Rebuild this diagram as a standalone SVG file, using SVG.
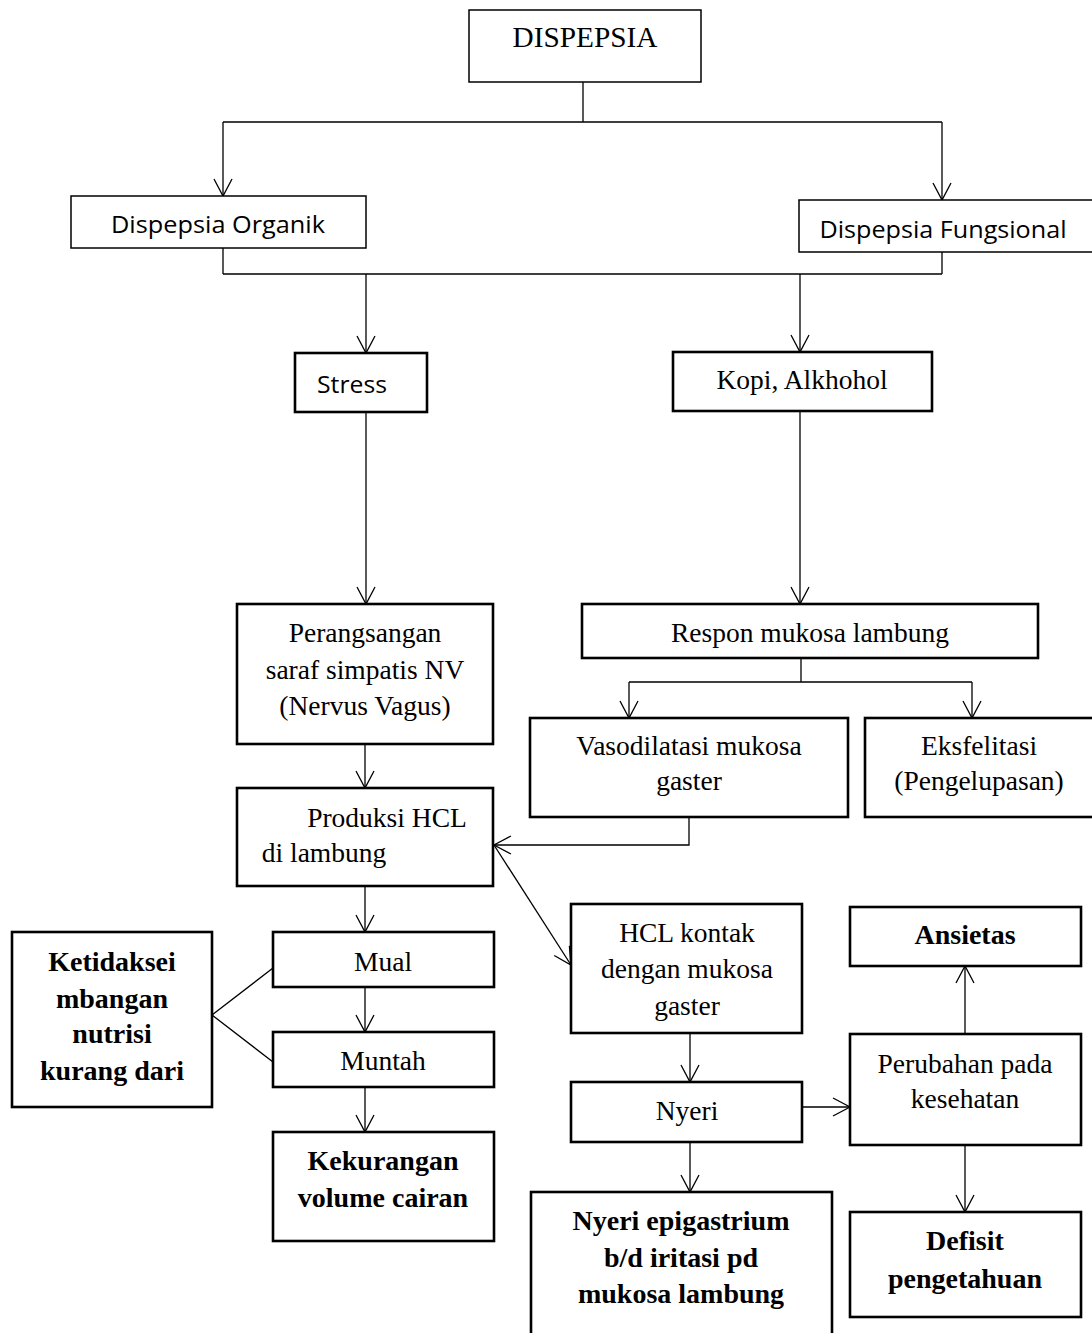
<svg xmlns="http://www.w3.org/2000/svg" width="1092" height="1333" viewBox="0 0 1092 1333">
<style>
.thin{fill:#fff;stroke:#000;stroke-width:1.5}
.box{fill:#fff;stroke:#000;stroke-width:2.6}
.c{fill:none;stroke:#000;stroke-width:1.3}
.a{fill:none;stroke:#000;stroke-width:1.3;marker-end:url(#arr)}
text{fill:#000;text-anchor:middle}
.s{font-family:"Liberation Serif","Times New Roman",serif;font-size:27.5px}
.b{font-family:"Liberation Serif","Times New Roman",serif;font-size:28px;font-weight:bold}
.sans{font-family:"Open Sans","Liberation Sans",sans-serif;font-size:24px}
</style>
<defs>
<marker id="arr" markerUnits="userSpaceOnUse" markerWidth="24" markerHeight="24" viewBox="-20 -12 24 24" refX="0" refY="0" orient="auto">
<path d="M-17,-9 L0,0 L-17,9" fill="none" stroke="#000" stroke-width="1.3"/>
</marker>
</defs>
<rect width="1092" height="1333" fill="#fff"/>
<g id="connectors">
<path class="c" d="M583,82 V122 M223,122 H942"/>
<path class="a" d="M223,122 V196"/>
<path class="a" d="M942,122 V200"/>
<path class="c" d="M223,248 V274 M942,252 V274 M223,274 H942"/>
<path class="a" d="M366,274 V353"/>
<path class="a" d="M800,274 V352"/>
<path class="a" d="M366,412 V604"/>
<path class="a" d="M800,411 V604"/>
<path class="a" d="M365,744 V788"/>
<path class="c" d="M801,658 V682 M629,682 H972"/>
<path class="a" d="M629,682 V718"/>
<path class="a" d="M972,682 V718"/>
<path class="a" d="M689,817 V845 H494"/>
<path class="a" d="M273,830 V790"/>
<path class="a" d="M494,845 L571,965"/>
<path class="a" d="M365,886 V932"/>
<path class="a" d="M365,987 V1032"/>
<path class="a" d="M365,1087 V1132"/>
<path class="c" d="M273,968 L212,1015 L273,1062"/>
<path class="a" d="M690,1033 V1082"/>
<path class="a" d="M690,1142 V1192"/>
<path class="a" d="M802,1107 H850"/>
<path class="a" d="M965,1034 V966"/>
<path class="a" d="M965,1145 V1212"/>
</g>
<g id="dispepsia"><rect class="thin" x="469" y="10" width="232" height="72"/><text class="s" x="585" y="47" style="font-size:29px" textLength="145" lengthAdjust="spacingAndGlyphs">DISPEPSIA</text></g>
<g id="organik"><rect class="thin" x="71" y="196" width="295" height="52"/><text class="sans" x="218" y="233" textLength="214" lengthAdjust="spacingAndGlyphs">Dispepsia Organik</text></g>
<g id="fungsional"><rect class="thin" x="799" y="200" width="300" height="52"/><text class="sans" x="943" y="238" textLength="247" lengthAdjust="spacingAndGlyphs">Dispepsia Fungsional</text></g>
<g id="stress"><rect class="box" x="295" y="353" width="132" height="59"/><text class="sans" x="352" y="393" textLength="70" lengthAdjust="spacingAndGlyphs">Stress</text></g>
<g id="kopi"><rect class="box" x="673" y="352" width="259" height="59"/><text class="s" x="802" y="389">Kopi, Alkhohol</text></g>
<g id="perangsangan"><rect class="box" x="237" y="604" width="256" height="140"/><text class="s" x="365" y="642">Perangsangan</text><text class="s" x="365" y="679">saraf simpatis NV</text><text class="s" x="365" y="715">(Nervus Vagus)</text></g>
<g id="respon"><rect class="box" x="582" y="604" width="456" height="54"/><text class="s" x="810" y="642">Respon mukosa lambung</text></g>
<g id="vasodilatasi"><rect class="box" x="530" y="718" width="318" height="99"/><text class="s" x="689" y="755">Vasodilatasi mukosa</text><text class="s" x="689" y="790">gaster</text></g>
<g id="eksfelitasi"><rect class="box" x="865" y="718" width="235" height="99"/><text class="s" x="979" y="755">Eksfelitasi</text><text class="s" x="979" y="790">(Pengelupasan)</text></g>
<g id="produksi"><rect class="box" x="237" y="788" width="256" height="98"/><text class="s" x="387" y="827">Produksi HCL</text><text class="s" x="324" y="862">di lambung</text></g>
<g id="hcl"><rect class="box" x="571" y="904" width="231" height="129"/><text class="s" x="687" y="942">HCL kontak</text><text class="s" x="687" y="978">dengan mukosa</text><text class="s" x="687" y="1015">gaster</text></g>
<g id="mual"><rect class="box" x="273" y="932" width="221" height="55"/><text class="s" x="383" y="971">Mual</text></g>
<g id="muntah"><rect class="box" x="273" y="1032" width="221" height="55"/><text class="s" x="383" y="1070">Muntah</text></g>
<g id="kekurangan"><rect class="box" x="273" y="1132" width="221" height="109"/><text class="b" x="383" y="1170">Kekurangan</text><text class="b" x="383" y="1207">volume cairan</text></g>
<g id="ketidakseimbangan"><rect class="box" x="12" y="932" width="200" height="175"/><text class="b" x="112" y="971">Ketidaksei</text><text class="b" x="112" y="1008">mbangan</text><text class="b" x="112" y="1043">nutrisi</text><text class="b" x="112" y="1080">kurang dari</text></g>
<g id="nyeri"><rect class="box" x="571" y="1082" width="231" height="60"/><text class="s" x="687" y="1120">Nyeri</text></g>
<g id="ansietas"><rect class="box" x="850" y="907" width="231" height="59"/><text class="b" x="965" y="944">Ansietas</text></g>
<g id="perubahan"><rect class="box" x="850" y="1034" width="231" height="111"/><text class="s" x="965" y="1073">Perubahan pada</text><text class="s" x="965" y="1108">kesehatan</text></g>
<g id="defisit"><rect class="box" x="850" y="1212" width="231" height="105"/><text class="b" x="965" y="1250">Defisit</text><text class="b" x="965" y="1288">pengetahuan</text></g>
<g id="nyeri-epigastrium"><rect class="box" x="531" y="1192" width="301" height="150"/><text class="b" x="681" y="1230">Nyeri epigastrium</text><text class="b" x="681" y="1267">b/d iritasi pd</text><text class="b" x="681" y="1303">mukosa lambung</text></g>
</svg>
